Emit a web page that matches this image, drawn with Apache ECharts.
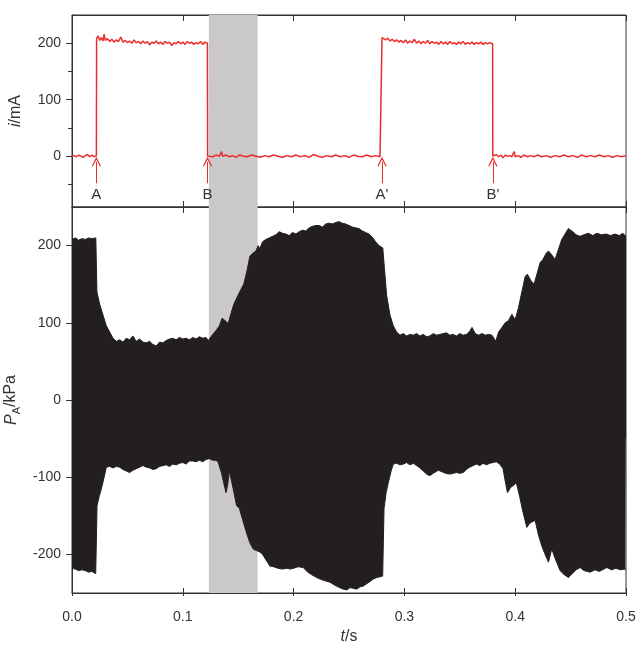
<!DOCTYPE html>
<html>
<head>
<meta charset="utf-8">
<script src="https://cdn.jsdelivr.net/npm/echarts@6/dist/echarts.min.js"></script>
<style>html,body{margin:0;padding:0;background:#fff;}#c{width:636px;height:660px;}</style>
</head>
<body>
<div id="c"></div>
<script>
// ---- Data ----
var xTicks = [0, 0.1, 0.2, 0.3, 0.4, 0.5];
var currentTickLabels = [0, 100, 200];
var currentMinorTicks = [-50, 50, 150];
var pressureTickLabels = [-200, -100, 0, 100, 200];
var shadedSpan = [0.1235, 0.1675];
var eventTimes = [0.022, 0.1223, 0.2798, 0.3798];
var eventLabels = ['A', 'B', "A'", "B'"];

// current i (mA) vs t (s)
var current = [
 [0,0],[0.002,1],[0.004,-1],[0.006,2],[0.008,0],[0.010,-2],[0.012,1],[0.014,3],[0.016,-1],[0.018,2],[0.020,-1],[0.0220,1],
 [0.0222,208],[0.0235,213],[0.025,205],[0.0265,210],[0.028,204],[0.029,216],[0.030,205],[0.032,208],[0.034,203],[0.036,207],[0.038,202],[0.040,206],[0.042,203],[0.044,211],[0.046,202],[0.048,205],[0.050,201],[0.052,204],[0.054,200],[0.056,206],[0.058,201],[0.060,203],[0.062,199],[0.064,204],[0.066,200],[0.068,203],[0.070,197],[0.072,202],[0.074,200],[0.076,204],[0.078,199],[0.080,202],[0.082,198],[0.084,203],[0.086,200],[0.088,202],[0.090,196],[0.092,201],[0.094,199],[0.096,203],[0.098,199],[0.100,202],[0.102,198],[0.104,203],[0.106,200],[0.108,202],[0.110,198],[0.112,201],[0.114,199],[0.116,203],[0.118,198],[0.120,202],[0.1222,200],
 [0.1224,0],[0.124,3],[0.127,-1],[0.130,2],[0.133,0],[0.135,8],[0.136,0],[0.139,2],[0.142,-1],[0.145,1],[0.148,-2],[0.151,2],[0.155,0],[0.158,-1],[0.162,2],[0.166,0],[0.170,-2],[0.174,1],[0.178,-1],[0.182,2],[0.186,0],[0.190,-2],[0.194,1],[0.198,-1],[0.202,2],[0.206,-1],[0.210,1],[0.214,-2],[0.218,3],[0.222,0],[0.226,-2],[0.230,1],[0.234,-1],[0.238,2],[0.242,-1],[0.246,1],[0.250,-2],[0.254,2],[0.258,0],[0.262,-1],[0.266,2],[0.270,-1],[0.274,1],[0.278,-1],[0.2796,1],
 [0.2798,210],[0.2805,212],[0.283,206],[0.285,209],[0.287,204],[0.289,207],[0.291,203],[0.293,206],[0.295,202],[0.297,205],[0.299,201],[0.301,206],[0.303,200],[0.305,204],[0.307,201],[0.309,207],[0.311,200],[0.313,204],[0.315,199],[0.317,203],[0.319,200],[0.321,205],[0.323,199],[0.325,203],[0.327,200],[0.329,202],[0.331,198],[0.333,203],[0.335,199],[0.337,202],[0.339,198],[0.341,203],[0.343,199],[0.345,201],[0.347,198],[0.349,202],[0.351,199],[0.353,203],[0.355,198],[0.357,201],[0.359,199],[0.361,202],[0.363,198],[0.365,201],[0.367,199],[0.369,202],[0.371,198],[0.373,201],[0.375,199],[0.377,201],[0.3796,199],
 [0.3798,0],[0.381,-2],[0.383,3],[0.385,-1],[0.387,2],[0.389,-3],[0.391,2],[0.393,0],[0.395,1],[0.397,-1],[0.399,8],[0.400,-1],[0.403,1],[0.405,-2],[0.408,2],[0.411,-1],[0.414,1],[0.417,-1],[0.420,2],[0.424,-1],[0.428,1],[0.432,-2],[0.436,1],[0.440,-1],[0.444,2],[0.448,-1],[0.452,1],[0.456,-2],[0.460,2],[0.464,-1],[0.468,1],[0.472,-1],[0.476,2],[0.480,-1],[0.484,1],[0.488,-2],[0.492,1],[0.496,-1],[0.500,1]
];

// pressure envelope P_A (kPa): upper and lower bounds of the oscillation
var pressureUpper = [
 [0,208],[0.003,210],[0.006,207],[0.009,209],[0.012,208],[0.015,210],[0.018,209],[0.0215,210],
 [0.0225,140],[0.025,124],[0.028,110],[0.031,96],[0.034,88],[0.037,80],[0.040,76],[0.043,78],[0.046,75],[0.049,80],[0.052,78],[0.055,83],[0.058,76],[0.061,79],[0.064,75],[0.067,74],[0.070,76],[0.073,72],[0.076,70],[0.079,75],[0.082,74],[0.085,77],[0.088,79],[0.091,80],[0.094,78],[0.097,81],[0.100,79],[0.103,80],[0.106,78],[0.109,81],[0.112,79],[0.115,82],[0.118,80],[0.121,81],[0.123,77],
 [0.1265,84],[0.130,90],[0.133,96],[0.1355,106],[0.138,103],[0.141,99],[0.1435,112],[0.146,124],[0.149,133],[0.152,142],[0.155,150],[0.158,168],[0.1605,186],[0.163,190],[0.166,193],[0.168,200],[0.1695,196],[0.172,205],[0.175,208],[0.178,210],[0.181,212],[0.184,214],[0.187,218],[0.190,216],[0.193,215],[0.196,213],[0.199,217],[0.202,215],[0.205,218],[0.208,220],[0.211,219],[0.214,223],[0.217,225],[0.220,226],[0.223,226],[0.226,224],[0.229,228],[0.232,229],[0.235,228],[0.238,230],[0.241,231],[0.244,229],[0.247,228],[0.250,226],[0.253,224],[0.256,223],[0.259,222],[0.262,219],[0.265,217],[0.268,215],[0.271,211],[0.274,205],[0.277,200],[0.2805,197],
 [0.282,170],[0.284,135],[0.287,110],[0.290,96],[0.293,88],[0.296,84],[0.299,86],[0.302,83],[0.305,85],[0.308,84],[0.311,86],[0.314,83],[0.317,85],[0.320,82],[0.323,83],[0.326,86],[0.329,84],[0.332,85],[0.335,86],[0.338,87],[0.341,84],[0.344,85],[0.347,83],[0.350,86],[0.353,84],[0.356,85],[0.359,89],[0.361,94],[0.364,86],[0.367,84],[0.370,86],[0.373,84],[0.376,85],[0.379,84],[0.3825,76],[0.385,88],[0.388,94],[0.391,100],[0.394,103],[0.397,111],[0.400,104],[0.403,120],[0.406,140],[0.409,160],[0.411,163],[0.414,155],[0.417,150],[0.420,165],[0.4225,178],[0.425,182],[0.428,190],[0.430,193],[0.433,188],[0.436,182],[0.439,195],[0.442,208],[0.445,215],[0.448,222],[0.4496,224],[0.452,218],[0.455,214],[0.4586,212],[0.462,214],[0.466,216],[0.470,213],[0.4737,216],[0.478,214],[0.482,215],[0.486,213],[0.490,215],[0.494,213],[0.497,216],[0.500,212]
];
var pressureLower = [
 [0,-218],[0.003,-219],[0.006,-221],[0.009,-220],[0.012,-221],[0.015,-223],[0.018,-222],[0.0214,-225],
 [0.0226,-137],[0.0245,-125],[0.0265,-115],[0.029,-100],[0.031,-87],[0.034,-86],[0.037,-88],[0.040,-86],[0.043,-87],[0.046,-90],[0.049,-92],[0.052,-94],[0.055,-91],[0.058,-89],[0.061,-87],[0.064,-85],[0.067,-87],[0.070,-88],[0.073,-90],[0.076,-89],[0.079,-86],[0.082,-85],[0.085,-84],[0.088,-86],[0.091,-83],[0.094,-84],[0.097,-82],[0.100,-81],[0.103,-83],[0.106,-79],[0.109,-79],[0.112,-80],[0.115,-78],[0.118,-80],[0.121,-77],[0.124,-76],[0.127,-78],[0.130,-78],[0.132,-81],[0.135,-95],[0.137,-108],[0.139,-120],[0.1405,-110],[0.142,-92],[0.144,-105],[0.1465,-122],[0.1485,-137],[0.151,-140],[0.154,-155],[0.1575,-172],[0.1605,-185],[0.1635,-193],[0.1665,-195],[0.1696,-197],[0.172,-200],[0.175,-207],[0.1786,-215],[0.182,-216],[0.186,-218],[0.190,-219],[0.194,-218],[0.1967,-219],[0.200,-218],[0.204,-216],[0.2087,-217],[0.212,-222],[0.216,-226],[0.2208,-230],[0.224,-232],[0.228,-234],[0.2328,-236],[0.236,-239],[0.240,-242],[0.2448,-245],[0.248,-246],[0.251,-243],[0.2538,-244],[0.257,-245],[0.260,-242],[0.2629,-241],[0.266,-238],[0.269,-235],[0.2719,-232],[0.275,-230],[0.278,-229],[0.2804,-228],
 [0.2816,-141],[0.2835,-120],[0.2855,-107],[0.288,-92],[0.290,-83],[0.293,-82],[0.296,-84],[0.299,-83],[0.302,-81],[0.305,-84],[0.308,-82],[0.311,-85],[0.314,-88],[0.317,-92],[0.320,-96],[0.323,-98],[0.326,-95],[0.3306,-91],[0.334,-93],[0.337,-95],[0.341,-96],[0.344,-95],[0.347,-94],[0.350,-95],[0.353,-94],[0.356,-90],[0.359,-87],[0.362,-85],[0.365,-83],[0.368,-85],[0.371,-82],[0.374,-84],[0.377,-82],[0.380,-81],[0.383,-80],[0.386,-83],[0.389,-89],[0.391,-105],[0.393,-120],[0.396,-113],[0.399,-110],[0.401,-107],[0.404,-125],[0.407,-145],[0.4105,-165],[0.413,-160],[0.415,-158],[0.418,-156],[0.421,-175],[0.424,-189],[0.427,-200],[0.430,-210],[0.433,-193],[0.436,-205],[0.4405,-221],[0.444,-226],[0.448,-230],[0.452,-224],[0.455,-220],[0.4586,-217],[0.462,-221],[0.4677,-223],[0.472,-220],[0.476,-222],[0.4827,-217],[0.487,-220],[0.491,-218],[0.495,-220],[0.4993,-219],[0.500,-219]
];

// ---- Chart ----
var FONT = '"Liberation Sans", Arial, Helvetica, sans-serif';
var INK = '#333333';
var RED = '#ec2c2c';
var BLACK = '#231f20';
var SHADE = '#cac8c8';
var FS = 14;

var chart = echarts.init(document.getElementById('c'), null, {renderer: 'canvas'});

function lineOn(show) {
  return {show: show, onZero: false, lineStyle: {color: INK, width: 1}};
}
function xAx(grid, pos, tickInside, tickLen, showLabel, showLine, extra) {
  var a = {
    type: 'value', gridIndex: grid, position: pos, min: xTicks[0], max: xTicks[xTicks.length - 1], interval: 0.1,
    axisLine: lineOn(showLine),
    axisTick: {show: true, inside: tickInside, length: tickLen, lineStyle: {color: INK, width: 1}},
    axisLabel: {show: showLabel, color: INK, fontFamily: FONT, fontSize: FS, margin: 17,
      formatter: function (v) { return v.toFixed(1); }},
    splitLine: {show: false}
  };
  for (var k in extra) a[k] = extra[k];
  return a;
}

var arrowPath = 'path://M0,0 L5,8 L4.1,8.9 L0,2.3 L-4.1,8.9 L-5,8 Z';
var eventLines = eventTimes.map(function (t, k) {
  return [
    {coord: [t, -48], label: {formatter: eventLabels[k]}},
    {coord: [t, -10]}
  ];
});

var option = {
  animation: false,
  backgroundColor: '#ffffff',
  grid: [
    {left: 72, top: 15, width: 554, height: 192, containLabel: false, outerBoundsMode: 'none', show: true, borderColor: INK, borderWidth: 1, backgroundColor: 'transparent'},
    {left: 72, top: 207, width: 554, height: 386, containLabel: false, outerBoundsMode: 'none', show: true, borderColor: INK, borderWidth: 1, backgroundColor: 'transparent'}
  ],
  xAxis: [
    xAx(0, 'bottom', true, 6, false, true, {}),
    xAx(0, 'top', true, 6, false, true, {}),
    xAx(1, 'top', true, 6, false, true, {}),
    xAx(1, 'bottom', true, 5, true, true, {
      name: '{i|t}/s', nameLocation: 'middle', nameGap: 36,
      nameTextStyle: {color: INK, fontFamily: FONT, fontSize: 16, rich: {i: {fontStyle: 'italic', fontFamily: FONT, fontSize: 16, color: INK}}}
    }),
    xAx(1, 'bottom', false, 3, false, false, {})
  ],
  yAxis: [
    {
      type: 'value', gridIndex: 0, min: -90, max: 250, position: 'left',
      axisLine: lineOn(true),
      axisTick: {show: true, inside: false, length: 6, customValues: currentTickLabels, lineStyle: {color: INK}},
      axisLabel: {show: true, customValues: currentTickLabels, color: INK, fontFamily: FONT, fontSize: FS, margin: 11},
      splitLine: {show: false},
      name: '{i|i}/mA', nameLocation: 'middle', nameGap: 48,
      nameTextStyle: {color: INK, fontFamily: FONT, fontSize: 16, rich: {i: {fontStyle: 'italic', fontFamily: FONT, fontSize: 16, color: INK}}}
    },
    {
      type: 'value', gridIndex: 0, min: -90, max: 250, position: 'left',
      axisLine: {show: false},
      axisTick: {show: true, inside: false, length: 4, customValues: currentMinorTicks, lineStyle: {color: INK}},
      axisLabel: {show: false},
      splitLine: {show: false}
    },
    {
      type: 'value', gridIndex: 1, min: -250, max: 250, position: 'left',
      axisLine: lineOn(true),
      axisTick: {show: true, inside: false, length: 6, customValues: pressureTickLabels, lineStyle: {color: INK}},
      axisLabel: {show: true, customValues: pressureTickLabels, color: INK, fontFamily: FONT, fontSize: FS, margin: 11},
      splitLine: {show: false},
      name: '{i|P}{s|A}{n|/kPa}', nameLocation: 'middle', nameGap: 48,
      nameTextStyle: {color: INK, fontFamily: FONT, fontSize: 16, rich: {
        i: {fontStyle: 'italic', fontFamily: FONT, fontSize: 16, color: INK, lineHeight: 22},
        s: {fontFamily: FONT, fontSize: 11, color: INK, verticalAlign: 'bottom', lineHeight: 11},
        n: {fontFamily: FONT, fontSize: 16, color: INK, lineHeight: 22}
      }}
    }
  ],
  series: [
    {
      type: 'line', xAxisIndex: 0, yAxisIndex: 0, data: [], z: 1, silent: true,
      markArea: {silent: true, itemStyle: {color: SHADE, opacity: 1}, label: {show: false},
        data: [[{xAxis: shadedSpan[0], yAxis: -90}, {xAxis: shadedSpan[1], yAxis: 250}]]}
    },
    {
      type: 'line', xAxisIndex: 3, yAxisIndex: 2, data: [], z: 1, silent: true,
      markArea: {silent: true, itemStyle: {color: SHADE, opacity: 1}, label: {show: false},
        data: [[{xAxis: shadedSpan[0], yAxis: -250}, {xAxis: shadedSpan[1], yAxis: 250}]]}
    },
    {
      name: 'upper', type: 'line', xAxisIndex: 3, yAxisIndex: 2, data: pressureUpper, z: 3,
      showSymbol: false, symbol: 'none', sampling: false, silent: true,
      lineStyle: {color: BLACK, width: 1}, areaStyle: {color: BLACK, opacity: 1, origin: -50}
    },
    {
      name: 'lower', type: 'line', xAxisIndex: 3, yAxisIndex: 2, data: pressureLower, z: 3,
      showSymbol: false, symbol: 'none', sampling: false, silent: true,
      lineStyle: {color: BLACK, width: 1}, areaStyle: {color: BLACK, opacity: 1, origin: 50}
    },
    {
      name: 'current', type: 'line', xAxisIndex: 0, yAxisIndex: 0, data: current, z: 4,
      showSymbol: false, symbol: 'none', sampling: false, silent: true,
      lineStyle: {color: RED, width: 1.5},
      markLine: {
        silent: true, animation: false,
        symbol: ['none', arrowPath], symbolSize: [9, 10],
        lineStyle: {color: RED, width: 1, type: 'solid'},
        label: {show: true, position: 'start', distance: 4, color: INK, fontFamily: FONT, fontSize: 15},
        emphasis: {disabled: true},
        data: eventLines
      }
    }
  ]
};
chart.setOption(option);
</script>
</body>
</html>
